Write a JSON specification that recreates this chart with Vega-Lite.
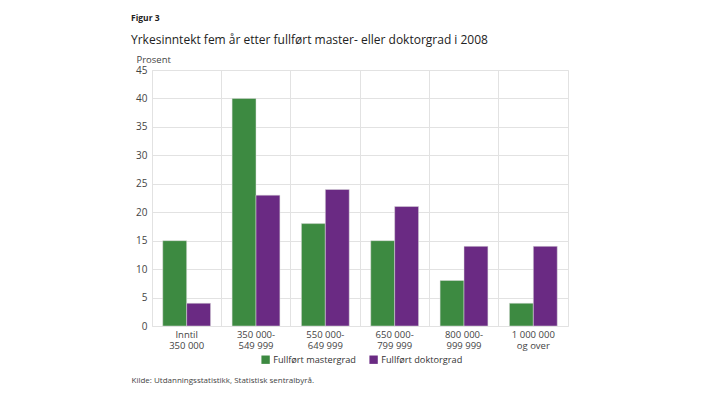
{
  "$schema": "https://vega.github.io/schema/vega-lite/v6.json",
  "width": 416,
  "height": 256,
  "autosize": {"type": "none"},
  "padding": {"left": 152, "top": 70, "right": 138, "bottom": 67},
  "background": "white",
  "config": {
    "font": "Open Sans",
    "view": {"stroke": "#e2e2e2", "strokeWidth": 1},
    "axis": {"labelFont": "Open Sans", "titleFont": "Open Sans", "labelColor": "#444", "titleColor": "#444"}
  },
  "title": {
    "text": "Figur 3",
    "subtitle": "Yrkesinntekt fem år etter fullført master- eller doktorgrad i 2008",
    "anchor": "start",
    "frame": "group",
    "dx": -21,
    "offset": 8,
    "font": "Open Sans",
    "fontSize": 8.5,
    "fontWeight": "bold",
    "color": "#222",
    "subtitleFont": "Open Sans",
    "subtitleFontSize": 12,
    "subtitleFontWeight": 500,
    "subtitleColor": "#222",
    "subtitlePadding": 13
  },
  "data": {
    "values": [
      {"kategori": "Inntil 350 000", "gruppe": "Fullført mastergrad", "prosent": 15},
      {"kategori": "Inntil 350 000", "gruppe": "Fullført doktorgrad", "prosent": 4},
      {"kategori": "350 000-549 999", "gruppe": "Fullført mastergrad", "prosent": 40},
      {"kategori": "350 000-549 999", "gruppe": "Fullført doktorgrad", "prosent": 23},
      {"kategori": "550 000-649 999", "gruppe": "Fullført mastergrad", "prosent": 18},
      {"kategori": "550 000-649 999", "gruppe": "Fullført doktorgrad", "prosent": 24},
      {"kategori": "650 000-799 999", "gruppe": "Fullført mastergrad", "prosent": 15},
      {"kategori": "650 000-799 999", "gruppe": "Fullført doktorgrad", "prosent": 21},
      {"kategori": "800 000-999 999", "gruppe": "Fullført mastergrad", "prosent": 8},
      {"kategori": "800 000-999 999", "gruppe": "Fullført doktorgrad", "prosent": 14},
      {"kategori": "1 000 000 og over", "gruppe": "Fullført mastergrad", "prosent": 4},
      {"kategori": "1 000 000 og over", "gruppe": "Fullført doktorgrad", "prosent": 14}
    ]
  },
  "mark": {"type": "bar", "stroke": "#dddddd", "strokeWidth": 0.5},
  "encoding": {
    "x": {
      "field": "kategori",
      "type": "nominal",
      "sort": null,
      "scale": {"paddingInner": 0, "paddingOuter": 0},
      "axis": {
        "title": "Kilde: Utdanningsstatistikk, Statistisk sentralbyrå.",
        "titleFontSize": 8,
        "titleFontWeight": "normal",
        "titleAngle": 0,
        "titleAlign": "left",
        "titleAnchor": "start",
        "titleBaseline": "middle",
        "titleX": -21,
        "titleY": 54,
        "labelAngle": 0,
        "labelFontSize": 9.5,
        "labelLineHeight": 11,
        "labelPadding": 3,
        "labelBaseline": "top",
        "labelExpr": "datum.label == 'Inntil 350 000' ? ['Inntil', '350 000'] : datum.label == '1 000 000 og over' ? ['1 000 000', 'og over'] : [slice(datum.label, 0, 8), slice(datum.label, 8)]",
        "ticks": false,
        "domain": false,
        "grid": true,
        "gridColor": "#e2e2e2",
        "bandPosition": 0
      }
    },
    "xOffset": {
      "field": "gruppe",
      "sort": ["Fullført mastergrad", "Fullført doktorgrad"],
      "scale": {"paddingInner": 0, "paddingOuter": 0.45}
    },
    "y": {
      "field": "prosent",
      "type": "quantitative",
      "scale": {"domain": [0, 45]},
      "axis": {
        "title": "Prosent",
        "titleFontSize": 9.5,
        "titleFontWeight": "normal",
        "titleAngle": 0,
        "titleAlign": "left",
        "titleBaseline": "middle",
        "titleX": -16,
        "titleY": -11,
        "values": [0, 5, 10, 15, 20, 25, 30, 35, 40, 45],
        "labelFontSize": 10,
        "labelPadding": 5,
        "ticks": false,
        "domain": false,
        "gridColor": "#e2e2e2"
      }
    },
    "color": {
      "field": "gruppe",
      "type": "nominal",
      "sort": ["Fullført mastergrad", "Fullført doktorgrad"],
      "scale": {"domain": ["Fullført mastergrad", "Fullført doktorgrad"], "range": ["#3d8a41", "#6a2a83"]},
      "legend": {
        "title": null,
        "orient": "none",
        "direction": "horizontal",
        "legendX": 109,
        "legendY": 285,
        "symbolType": "square",
        "symbolSize": 70,
        "symbolStrokeWidth": 0,
        "labelFontSize": 9.2,
        "labelColor": "#333",
        "labelFont": "Open Sans",
        "columnPadding": 13,
        "labelOffset": 3
      }
    }
  }
}
